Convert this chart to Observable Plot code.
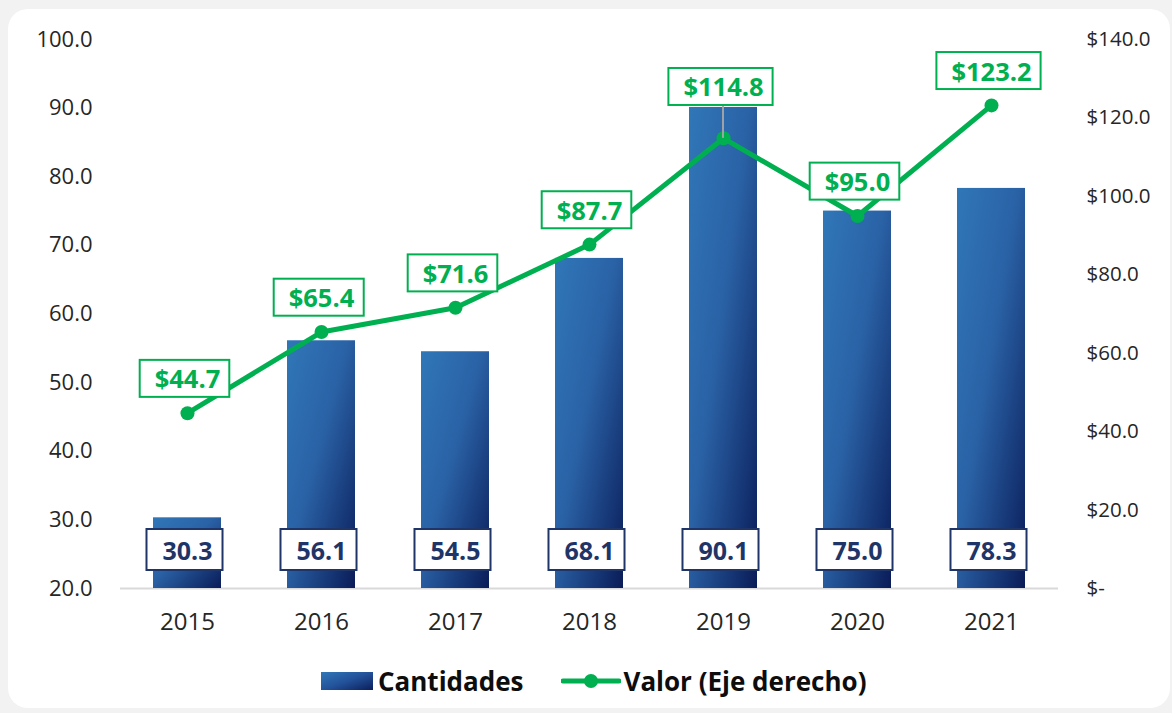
<!DOCTYPE html>
<html>
<head>
<meta charset="utf-8">
<script src="https://cdn.jsdelivr.net/npm/d3@7"></script>
<script src="https://cdn.jsdelivr.net/npm/@observablehq/plot@0.6"></script>
<style>
  html, body { margin: 0; padding: 0; background: #f2f2f2; width: 1172px; height: 713px; overflow: hidden; }
  #card { position: absolute; left: 8px; top: 9px; width: 1162px; height: 699px; background: #fff; border-radius: 20px; }
  #chart { position: absolute; left: 0; top: 0; }
  #legend { position: absolute; left: 0; top: 663px; width: 1172px; height: 36px; display: flex; justify-content: flex-start; align-items: center;
    font-family: "Open Sans", sans-serif; font-weight: 700; font-size: 26px; color: #0d0d0d; padding-left: 321px; box-sizing: border-box; }
  .sw-bar { width: 52px; height: 18px; background: linear-gradient(160deg, #3077b8 0%, #23529a 50%, #0b1e5b 100%); margin-right: 5px; }
  .item { display: flex; align-items: center; }
</style>
</head>
<body>
<div id="card"></div>
<div id="chart"></div>
<div id="legend">
  <div class="item"><div class="sw-bar"></div><span>Cantidades</span></div>
  <div class="item" style="margin-left:38px"><svg width="60" height="16" style="margin-right:2px"><line x1="2" y1="8" x2="58" y2="8" stroke="#00b050" stroke-width="5" stroke-linecap="round"/><circle cx="30" cy="8" r="7" fill="#00b050"/></svg><span>Valor (Eje derecho)</span></div>
</div>
<script>
const years = ["2015", "2016", "2017", "2018", "2019", "2020", "2021"];
const cantidades = [30.3, 56.1, 54.5, 68.1, 90.1, 75.0, 78.3];
const valor = [44.7, 65.4, 71.6, 87.7, 114.8, 95.0, 123.2];
const leftTicks = [20, 30, 40, 50, 60, 70, 80, 90, 100];
const rightTicks = [0, 20, 40, 60, 80, 100, 120, 140];
const liftedLabels = ["2019"];

const GREEN = "#00b050";
const NAVY = "#1f3568";
const leftMin = 20, leftMax = 100, rightMax = 140;
const toLeft = v => leftMin + v * (leftMax - leftMin) / rightMax;
const fromLeft = d => (d - leftMin) * rightMax / (leftMax - leftMin);

const data = years.map((year, i) => ({year, qty: cantidades[i], val: valor[i]}));

const chart = Plot.plot({
  width: 1172,
  height: 640,
  marginLeft: 120,
  marginRight: 114,
  marginTop: 39,
  marginBottom: 52,
  style: {fontFamily: "Open Sans, sans-serif", fontSize: "20px", color: "#262626", background: "transparent", overflow: "visible"},
  x: {domain: years, paddingInner: 0.49, paddingOuter: 0.245, label: null},
  y: {domain: [leftMin, leftMax], clamp: true, label: null},
  marks: [
    Plot.axisX({tickSize: 0, tickPadding: 24, label: null, fontSize: 24}),
    Plot.axisY({anchor: "left", ticks: leftTicks, tickSize: 0, tickPadding: 28, tickFormat: d => d.toFixed(1), label: null, fontSize: 22}),
    Plot.axisY(rightTicks.map(toLeft), {anchor: "right", tickSize: 0, tickPadding: 28, label: null, fontSize: 20.5,
      tickFormat: d => { const v = Math.round(fromLeft(d) * 10) / 10; return v === 0 ? "$-" : "$" + v.toFixed(1); }}),
    Plot.ruleY([leftMin], {stroke: "#d9d9d9", strokeWidth: 2}),
    Plot.barY(data, {x: "year", y: "qty", fill: "url(#barGrad)"}),
    Plot.line(data, {x: "year", y: d => toLeft(d.val), stroke: GREEN, strokeWidth: 5, strokeLinejoin: "round"}),
    Plot.dot(data, {x: "year", y: d => toLeft(d.val), r: 7, fill: GREEN}),
    Plot.text(data, {x: "year", text: d => d.qty.toFixed(1), frameAnchor: "bottom", dy: -29,
      fill: NAVY, fontWeight: 700, fontSize: 25}),
    Plot.text(data, {filter: d => !liftedLabels.includes(d.year), x: "year", y: d => toLeft(d.val), text: d => "$" + d.val.toFixed(1),
      dy: -33, fill: GREEN, fontWeight: 700, fontSize: 25.5}),
    Plot.text(data, {filter: d => liftedLabels.includes(d.year), x: "year", y: d => toLeft(d.val), text: d => "$" + d.val.toFixed(1),
      dy: -50, fill: GREEN, fontWeight: 700, fontSize: 25.5})
  ]
});

document.getElementById("chart").appendChild(chart);

const svg = d3.select(chart);
// gradient definition for bars
const defs = svg.insert("defs", ":first-child");
const grad = defs.append("linearGradient").attr("id", "barGrad")
  .attr("x1", 0).attr("y1", 0).attr("x2", 1).attr("y2", 1);
grad.append("stop").attr("offset", "0%").attr("stop-color", "#3077b8");
grad.append("stop").attr("offset", "45%").attr("stop-color", "#2a62a6");
grad.append("stop").attr("offset", "100%").attr("stop-color", "#0a1c58");

const xs = chart.scale("x"), ys = chart.scale("y");
const svgRect = chart.getBoundingClientRect();

// boxes behind labels
chart.querySelectorAll('g[aria-label="text"]').forEach(g => {
  const fill = g.getAttribute("fill");
  let stroke, h, pad;
  if (fill === GREEN) { stroke = GREEN; h = 37; pad = 11; }
  else if (fill === NAVY) { stroke = NAVY; h = 41; pad = 12; }
  else return;
  const boxG = document.createElementNS("http://www.w3.org/2000/svg", "g");
  g.parentNode.insertBefore(boxG, g);
  g.querySelectorAll("text").forEach(t => {
    const b = t.getBoundingClientRect();
    const cx = b.left - svgRect.left + b.width / 2;
    const cy = b.top - svgRect.top + b.height / 2;
    const w = b.width + 2 * pad;
    d3.select(boxG).append("rect")
      .attr("x", cx - w / 2 - 4).attr("y", cy - h / 2)
      .attr("width", w + 2).attr("height", h)
      .attr("fill", "#fff").attr("stroke", stroke).attr("stroke-width", 2);
  });
  if (fill === GREEN) {
    data.filter(d => liftedLabels.includes(d.year)).forEach(d => {
      const x = xs.apply(d.year) + xs.bandwidth / 2;
      const y = ys.apply(toLeft(d.val));
      d3.select(boxG).insert("line", ":first-child")
        .attr("x1", x).attr("x2", x).attr("y1", y).attr("y2", y - 40)
        .attr("stroke", "#a6a6a6").attr("stroke-width", 1.5);
    });
  }
});
</script>
</body>
</html>
